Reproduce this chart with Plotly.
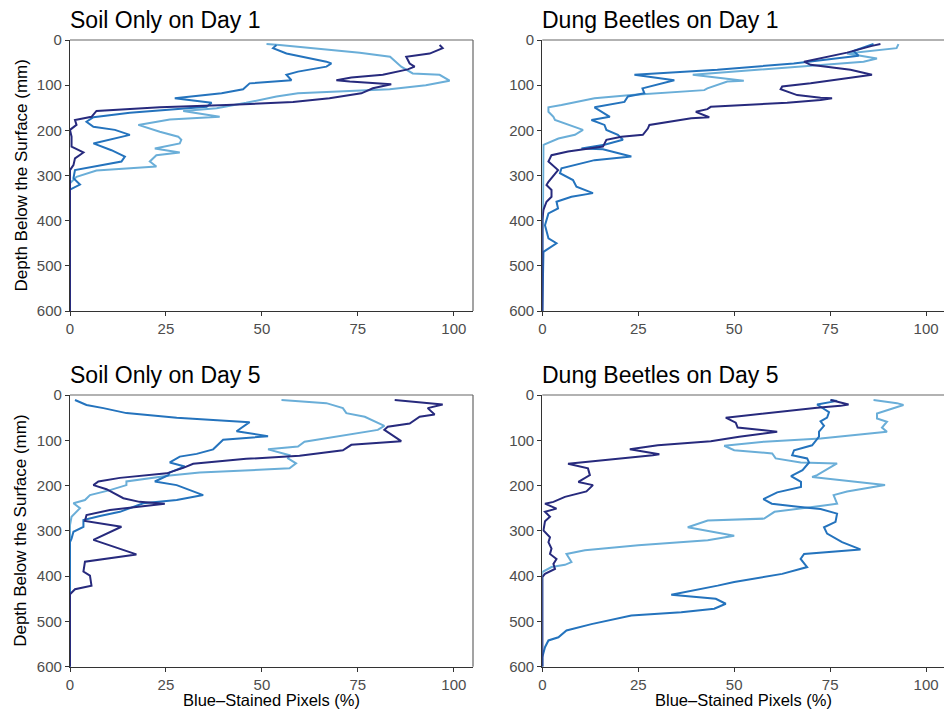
import plotly.graph_objects as go

# ---------------- data (depth in mm, blue-stained pixels in %) ----------------
# Soil Only on Day 1
soil_d1_navy_depth = [11,18,30,37,52,59,65,77,83,89,92,98,107,118,129,137,144,149,157,170,177,188,199,214,236,249,262,277,288,600]
soil_d1_navy_pct   = [96.3,97.1,93.7,87.6,88.5,89.8,88,81.5,73.3,69.4,72.9,83.7,78.9,75.9,67.6,58.1,40.8,23.4,6.9,5.6,1.3,1.7,0,0.4,0.4,3.5,1.3,0.9,0,0]
soil_d1_mid_depth  = [11,18,30,48,52,59,70,77,89,96,109,118,129,139,148,161,171,181,192,199,210,229,244,258,269,280,288,306,320,331,600]
soil_d1_mid_pct    = [53.8,52.9,56.4,66.8,68.1,66.8,59.4,56.4,57.7,46.8,45.1,39.5,27.3,36.9,35.6,15.6,6.1,4.3,6.1,11.7,15.6,6.1,10.8,14.3,13.4,6.9,1.3,0.9,2.6,0,0]
soil_d1_light_depth = [9,11,28,37,59,74,77,90,100,109,118,125,139,151,157,170,176,188,203,214,221,229,240,249,255,269,280,289,303,317,600]
soil_d1_light_pct   = [51.2,54.6,75.5,83.4,86.3,89.3,96.3,98.9,92.7,83.3,59.4,53.8,45.9,38.2,29.5,39,26,17.8,23.4,28.2,29,28.6,22.1,28.6,22.5,20.8,22.5,6.9,1.7,0,0]

# Dung Beetles on Day 1
dung_d1_navy_depth = [9,13,28,41,48,55,66,77,87,96,103,109,122,128,129,133,139,148,153,159,171,173,188,196,210,214,221,236,247,255,269,288,314,321,332,347,358,376,398,600]
dung_d1_navy_pct   = [88.1,85.9,79.4,71.6,68.2,69.9,80.3,85.9,77.7,69.9,62.5,62.1,66.4,72.5,75.5,72.5,63.8,43.9,43,40,43.5,38.8,27.9,27.5,26.2,20.6,16.7,15.8,6.7,2.4,1.6,4.1,1.6,1.1,2.4,2.4,1.1,0.3,0,0]
dung_d1_mid_depth  = [9,24,35,48,52,66,77,89,107,118,125,137,149,170,177,188,199,210,221,232,240,242,258,266,284,295,310,325,339,347,358,373,384,410,439,450,469,600]
dung_d1_mid_pct    = [86.3,81.1,82.4,69,65.5,45.6,24,34.4,26.1,26.6,22.3,21.4,13.6,17.6,12.8,16.2,16.7,19.7,21,16.2,10.2,15.8,23.2,13.6,5,4.6,8,8.9,13.2,7.6,3.7,4.1,1.6,0.7,1.6,3.7,0.3,0]
dung_d1_light_depth = [9,18,30,41,48,65,77,90,92,107,111,122,129,144,149,159,170,177,199,210,218,232,600]
dung_d1_light_pct   = [92.8,92.3,79.4,87.2,83.7,58.6,39.2,52.5,48.2,43,42.2,23.2,13.6,5,1.6,1.6,2.9,3.3,10.6,8.5,4.2,0.3,0]

# Soil Only on Day 5
soil_d5_navy_depth = [11,21,29,43,48,63,70,77,102,110,122,134,141,152,161,173,183,191,199,208,228,236,240,247,254,265,278,291,320,352,368,390,399,421,429,440,600]
soil_d5_navy_pct   = [84.6,97.1,93.2,95,91.1,88.5,82.8,81.9,86.3,73.3,71.1,59.8,45.9,32.1,29.5,25.2,13,7.4,6.1,9.5,13.9,18.1,24.7,17.3,10.4,4.3,3.9,13.4,6.1,17.3,3.9,3.5,5.2,5.6,1.3,0,0]
soil_d5_mid_depth  = [11,22,29,40,50,60,80,91,99,120,130,136,149,158,171,177,191,199,221,232,239,258,267,276,291,302,317,325,600]
soil_d5_mid_pct    = [1.3,4.3,8.7,14.7,27.8,46.8,43.4,51.6,39.9,37.3,33,28.6,26,29.9,26,25.6,22.1,27.8,34.7,27.8,19.1,13,7.8,3.5,3.5,0.9,0.4,0,0]
soil_d5_light_depth = [11,18,29,40,48,68,77,88,103,114,120,133,140,151,162,171,178,191,199,210,221,232,239,250,269,287,600]
soil_d5_light_pct   = [55.1,66.8,71.1,72,76.8,81.9,80.2,72,61.1,59.4,51.6,57.2,56.8,58.9,57.2,33.8,26,14.7,14.7,10.4,5.2,3.9,0.9,2.6,0.4,0,0]

# Dung Beetles on Day 5
dung_d5_navy_depth = [11,21,24,28,50,61,72,81,92,102,111,120,131,133,152,162,177,192,199,213,225,236,240,251,258,269,279,299,314,325,339,351,362,373,384,395,402,600]
dung_d5_navy_pct   = [75.1,79.8,77.7,71.6,47.8,50.4,50.9,61.2,51.3,43.9,30.1,22.8,30.5,28.8,6.7,11.9,12.4,9.4,13.2,11.5,5.9,2.9,0.7,3.7,0.7,2,0.7,0.3,2,1.6,2.4,2,3.7,2.9,3.3,0.7,0,0]
dung_d5_mid_depth  = [11,13,21,30,38,50,58,68,81,92,111,122,133,140,149,166,179,192,203,215,230,240,244,247,252,262,280,292,306,325,341,351,362,380,395,404,413,421,441,450,461,472,480,487,506,520,535,542,557,579,600]
dung_d5_mid_pct    = [75.1,76.8,71.6,73.4,74.7,74.2,72.5,73.4,72.1,72.1,70.3,65.6,65.1,69,69.5,67.8,64.8,67.4,67.4,61.2,57.6,59.8,63.2,66.6,72.5,76.8,76.4,73.4,74.2,78.1,82.9,68.2,67.3,69,62.5,56.1,50,45.7,33.6,45.2,47.8,44.8,36.2,23.2,12.8,6.3,4.2,1.6,0.7,0,0]
dung_d5_light_depth = [11,18,22,41,52,59,72,81,96,103,112,122,129,140,149,151,177,181,199,213,221,240,244,258,273,277,292,311,321,332,343,351,369,375,380,391,600]
dung_d5_light_pct   = [86.3,92.4,94.1,87.2,87.2,89.8,88.5,89.8,72.5,57.8,47.4,50,59.9,60.8,67.3,76.8,71.6,70.3,89.3,79.4,75.9,76.8,73.4,60.5,57.8,43.1,37.9,50,43.1,25,11.1,6.3,7.6,5.9,2.4,0,0]

panel_titles = ["Soil Only on Day 1", "Dung Beetles on Day 1", "Soil Only on Day 5", "Dung Beetles on Day 5"]
x_ticks = [0, 25, 50, 75, 100]
y_ticks = [0, 100, 200, 300, 400, 500, 600]
x_title = "Blue\u2013Stained Pixels (%)"
y_title = "Depth Below the Surface (mm)"

colors = {"navy": "#272a7d", "mid": "#2473bd", "light": "#6aaed8"}

panels = [
    [("light", soil_d1_light_depth, soil_d1_light_pct), ("mid", soil_d1_mid_depth, soil_d1_mid_pct), ("navy", soil_d1_navy_depth, soil_d1_navy_pct)],
    [("light", dung_d1_light_depth, dung_d1_light_pct), ("mid", dung_d1_mid_depth, dung_d1_mid_pct), ("navy", dung_d1_navy_depth, dung_d1_navy_pct)],
    [("light", soil_d5_light_depth, soil_d5_light_pct), ("mid", soil_d5_mid_depth, soil_d5_mid_pct), ("navy", soil_d5_navy_depth, soil_d5_navy_pct)],
    [("light", dung_d5_light_depth, dung_d5_light_pct), ("mid", dung_d5_mid_depth, dung_d5_mid_pct), ("navy", dung_d5_navy_depth, dung_d5_navy_pct)],
]

# ---------------- layout geometry ----------------
W, H = 944, 710
left_px = (70, 473)
right_px = (542.3, 944)
top_px = (40, 311)
bot_px = (395, 666.7)
px_per_unit = (473 - 70) / 105.0
ranges_x = [[0, 105], [0, (944 - 542.3) / px_per_unit], [0, 105], [0, (944 - 542.3) / px_per_unit]]

def xd(p):
    return [p[0] / W, p[1] / W]

def yd(p):
    return [1 - p[1] / H, 1 - p[0] / H]

geo = [(left_px, top_px), (right_px, top_px), (left_px, bot_px), (right_px, bot_px)]

FONT = "Liberation Sans, Arial, Helvetica, sans-serif"
fig = go.Figure()
layout = dict(
    template="none",
    width=W, height=H, margin=dict(l=0, r=0, t=0, b=0, pad=0, autoexpand=False),
    paper_bgcolor="white", plot_bgcolor="white", showlegend=False,
    font=dict(family=FONT, color="#4d4d4d"),
)
annotations = []
shapes = []
for i, (series, (gx, gy)) in enumerate(zip(panels, geo)):
    n = "" if i == 0 else str(i + 1)
    for key, depth, pct in series:
        assert len(depth) == len(pct), (i, key)
        fig.add_trace(go.Scatter(x=pct, y=depth, mode="lines", xaxis="x" + n, yaxis="y" + n,
                                 line=dict(color=colors[key], width=2), hoverinfo="skip"))
    common = dict(showline=True, linecolor="#333333", linewidth=1.2, ticks="outside", ticklen=4,
                  tickwidth=1.2, tickcolor="#333333", tickfont=dict(size=15, color="#4d4d4d", family=FONT),
                  showgrid=False, zeroline=False, layer="below traces", automargin=False)
    layout["xaxis" + n] = dict(domain=xd(gx), range=ranges_x[i], anchor="y" + n, tickvals=x_ticks,
                               tickmode="array", **common)
    layout["yaxis" + n] = dict(domain=yd(gy), range=[600, 0], anchor="x" + n, tickvals=y_ticks,
                               tickmode="array", **common)
    # grey top border and (if visible) right border
    shapes.append(dict(type="line", xref="paper", yref="paper",
                       x0=gx[0] / W, x1=gx[1] / W, y0=1 - gy[0] / H, y1=1 - gy[0] / H,
                       line=dict(color="#999999", width=1.5)))
    if gx[1] < W - 1:
        shapes.append(dict(type="line", xref="paper", yref="paper",
                           x0=gx[1] / W, x1=gx[1] / W, y0=1 - gy[0] / H, y1=1 - gy[1] / H,
                           line=dict(color="#666666", width=1.2)))
    annotations.append(dict(text=panel_titles[i], xref="paper", yref="paper",
                            x=(gx[0] - 2) / W, y=1 - (gy[0] - 20) / H, xanchor="left", yanchor="middle",
                            showarrow=False, font=dict(size=23, color="black", family=FONT)))
    if i in (0, 2):
        annotations.append(dict(text=y_title, xref="paper", yref="paper", textangle=-90,
                                x=21 / W, y=1 - ((gy[0] + gy[1]) / 2) / H, xanchor="center", yanchor="middle",
                                showarrow=False, font=dict(size=17, color="black", family=FONT)))
    if i in (2, 3):
        cx = (gx[0] + gx[0] + 105 * px_per_unit) / 2
        annotations.append(dict(text=x_title, xref="paper", yref="paper",
                                x=cx / W, y=1 - 700 / H, xanchor="center", yanchor="middle",
                                showarrow=False, font=dict(size=16.5, color="black", family=FONT)))

layout["annotations"] = annotations
layout["shapes"] = shapes
fig.update_layout(**layout)
fig.write_html("out.html")
